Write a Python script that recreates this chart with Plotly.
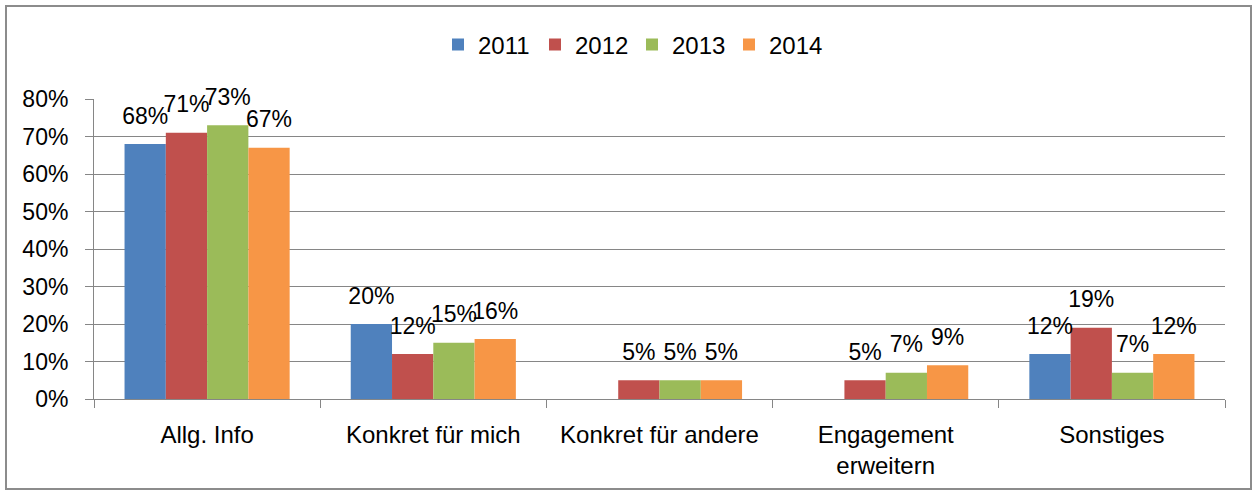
import plotly.graph_objects as go

categories = ["Allg. Info", "Konkret für mich", "Konkret für andere", "Engagement<br>erweitern", "Sonstiges"]
years = ["2011", "2012", "2013", "2014"]
v2011 = [0.68, 0.20, None, None, 0.12]
v2012 = [0.71, 0.12, 0.05, 0.05, 0.19]
v2013 = [0.73, 0.15, 0.05, 0.07, 0.07]
v2014 = [0.67, 0.16, 0.05, 0.09, 0.12]
series = [v2011, v2012, v2013, v2014]
colors = ["#4F81BD", "#C0504D", "#9BBB59", "#F79646"]
yticks = [0, 0.1, 0.2, 0.3, 0.4, 0.5, 0.6, 0.7, 0.8]

FAM = "Liberation Sans, Arial, sans-serif"
FONT = dict(family=FAM, size=24, color="#000000")
NUMFONT = dict(family=FAM, size=23, color="#000000")

fig = go.Figure()
for name, vals, col in zip(years, series, colors):
    fig.add_trace(go.Bar(
        x=categories, y=vals, name=name, offsetgroup=name,
        marker=dict(color=col, line=dict(width=0)),
        hoverinfo="skip",
    ))
for name, vals in zip(years, series):
    fig.add_trace(go.Scatter(
        x=categories, y=vals, offsetgroup=name, mode="markers+text",
        marker=dict(size=22, opacity=0),
        text=[None if v is None else f"{round(v*100)}%" for v in vals],
        textposition="top center", textfont=NUMFONT,
        showlegend=False, hoverinfo="skip", cliponaxis=False,
    ))

W, H = 1255, 491
ml, mr, mt, mb = 94, 30, 99, 92
pw, ph = W - ml - mr, H - mt - mb

def px_x(p):
    return (p - ml) / pw

def px_y(p):
    return (H - mb - p) / ph

fig.update_layout(
    width=W, height=H,
    margin=dict(l=ml, r=mr, t=mt, b=mb, pad=0),
    barmode="group", bargap=0.27, bargroupgap=0,
    scattermode="group", scattergap=0.27,
    plot_bgcolor="white", paper_bgcolor="white",
    font=FONT,
    showlegend=True,
    legend=dict(orientation="h", x=px_x(438), xanchor="left", y=px_y(45), yanchor="middle",
                font=FONT, traceorder="normal", entrywidth=52, entrywidthmode="pixels",
                bgcolor="rgba(0,0,0,0)"),
    shapes=[dict(type="rect", xref="paper", yref="paper",
                 x0=px_x(6), x1=px_x(1251), y0=px_y(489), y1=px_y(6),
                 line=dict(color="#8C8C8C", width=2), layer="below")],
)
fig.update_xaxes(
    type="category", tickson="boundaries", ticks="outside", ticklen=8, tickcolor="#868686",
    showline=True, linecolor="#868686", linewidth=1, showgrid=False,
    tickfont=FONT, ticklabelstandoff=14,
)
fig.update_yaxes(
    range=[0, 0.8], tickvals=yticks, tickformat=".0%", ticks="outside", ticklen=8,
    tickcolor="#868686", showline=True, linecolor="#868686", linewidth=1,
    showgrid=True, gridcolor="#868686", gridwidth=1, zeroline=False,
    tickfont=NUMFONT, ticklabelstandoff=12,
)
fig.write_html("out.html", config={"displayModeBar": False},
               post_script="document.body.style.margin='0';")
